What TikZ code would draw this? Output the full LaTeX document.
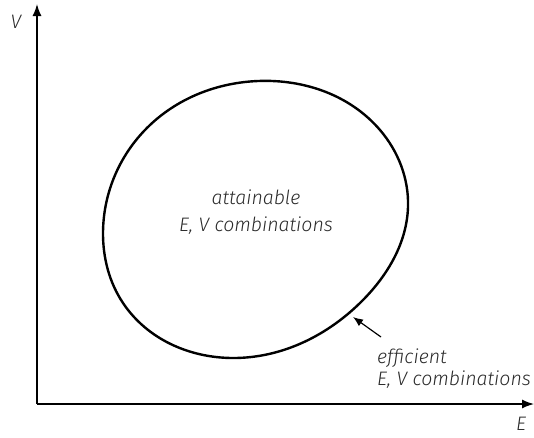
\documentclass[tikz,border=0pt]{standalone}
\usepackage{fontspec}
\setmainfont{Fira Sans}[UprightFont={* Light}, ItalicFont={* Light Italic}]
\usetikzlibrary{arrows.meta,hobby}
\definecolor{txt}{HTML}{2A2A2A}
\begin{document}
\begin{tikzpicture}[x=1pt,y=-1pt,
  axis/.style={line width=1.4pt,-{Latex[length=12pt,width=9pt]}},
  lbl/.style={font=\fontsize{19.5}{24}\selectfont\itshape,text=txt,inner sep=0pt,align=left},
  blob/.style={line width=2.4pt},
  pointer/.style={line width=1.2pt,-{Latex[length=10pt,width=8pt]}}]
\useasboundingbox (0,0) rectangle (534,437);
\coordinate (O) at (37,404);
\coordinate (Vend) at (37,4);
\coordinate (Eend) at (534,404);
\draw[axis] (O) -- (Vend);
\draw[axis] (O) -- (Eend);
\node[lbl,anchor=base] (V) at (16,28) {V};
\node[lbl,anchor=base] (E) at (521,430) {E};
\draw[blob] plot[closed hobby] coordinates {
 (103,233) (150,125) (258,81) (380,130) (408,207) (363,300) (233,358) (123,303)};
\node[lbl,anchor=base] (att1) at (256,204) {attainable};
\node[lbl,anchor=base] (att2) at (256,231) {E, V combinations};
\node[lbl,anchor=base west] (eff1) at (377,363) {efficient};
\node[lbl,anchor=base west] (eff2) at (377,385) {E, V combinations};
\coordinate (tail) at (381,337);
\coordinate (tip) at (353,317);
\draw[pointer] (tail) -- (tip);
\end{tikzpicture}
\end{document}
